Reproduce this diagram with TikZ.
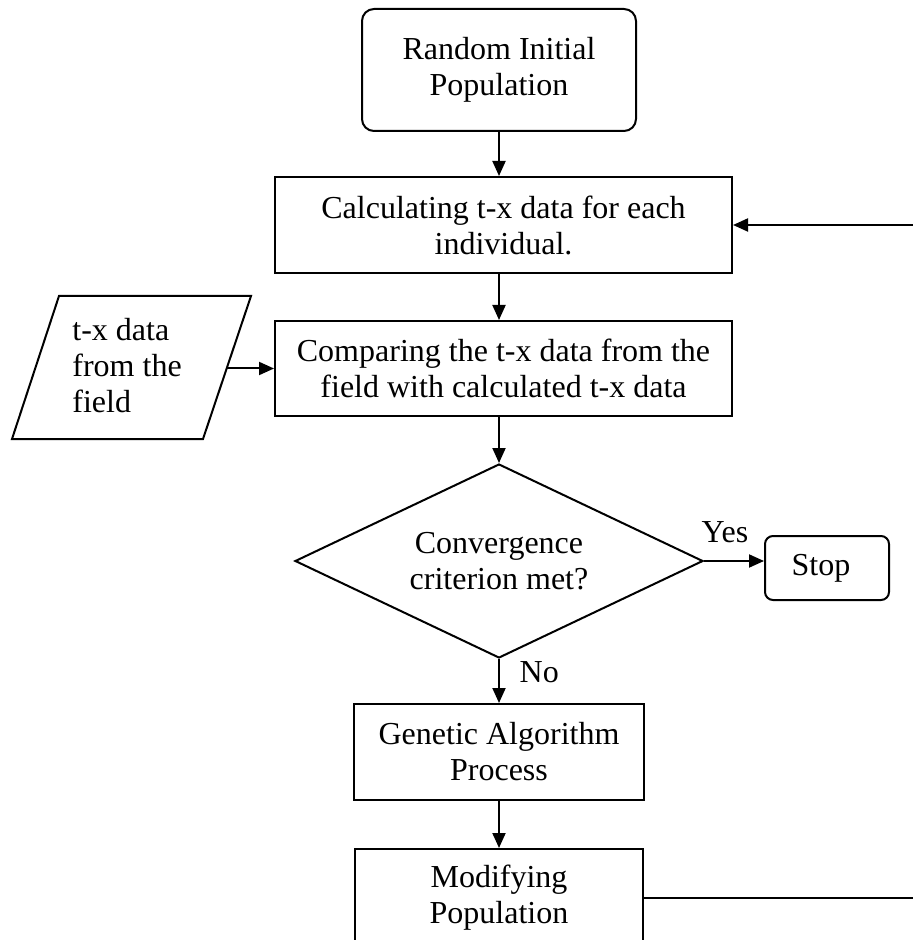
\documentclass[tikz,border=0pt]{standalone}
\usepackage{fontspec}
\setmainfont{Liberation Serif}
\usetikzlibrary{arrows.meta,shapes.geometric}

\begin{document}
\begin{tikzpicture}[x=0.5pt, y=-0.5pt,
        txt/.style={font=\fontsize{16pt}{18pt}\selectfont, align=center},
        procbox/.style={txt, draw, line width=1pt, inner sep=0pt},
        termbox/.style={procbox, rounded corners=6pt},
        decbox/.style={txt, draw, line width=1pt, diamond, shape aspect=2.1, inner sep=0pt},
        arr/.style={line width=1pt, -{Triangle[length=7.5pt,width=6.5pt]}}]
    \useasboundingbox (0,0) rectangle (913,940);
    % boxes
    \node[termbox, minimum width=137pt, minimum height=61pt] (start) at (499,70) {Random Initial\\Population};
    \node[procbox, minimum width=228.5pt, minimum height=48pt] (calc) at (503.5,225) {Calculating t-x data for each\\individual.};
    \node[procbox, minimum width=228.5pt, minimum height=47.5pt] (comp) at (503.5,368.5) {Comparing the t-x data from the\\field with calculated t-x data};
    \draw[line width=1pt] (59,296) -- (251,296) -- (203,439) -- (12,439) -- cycle;
    \node[txt, align=left, anchor=west, inner sep=0pt] (data) at (72,366) {t-x data\\from the\\field};
    \coordinate (dataout) at (227,368.5);
    \node[decbox, minimum width=204pt, minimum height=97pt] (dec) at (499,561) {Convergence\\criterion met?};
    \node[termbox, rounded corners=4pt, minimum width=62pt, minimum height=32pt] (stop) at (827,568) {Stop\hspace{6pt}};
    \node[procbox, minimum width=145pt, minimum height=48pt] (gen) at (499,752) {Genetic Algorithm\\Process};
    \node[procbox, minimum width=144pt, minimum height=49pt] (mod) at (499,898) {Modifying\\Population};
    \coordinate (loopin) at (913,225);
    \coordinate (loopout) at (913,898);
    % connectors
    \draw[arr] (start.south) -- (start.south |- calc.north);
    \draw[arr] (start.south |- calc.south) -- (start.south |- comp.north);
    \draw[arr] (start.south |- comp.south) -- (dec.north);
    \draw[arr] (dataout) -- (dataout -| comp.west);
    \draw[arr] (dec.east) -- (dec.east -| stop.west) node[txt, pos=0.35, above=5.5pt] (yes) {Yes};
    \draw[arr] (dec.south) -- (gen.north) node[txt, pos=0.3, right=6.5pt] (no) {No};
    \draw[arr] (gen.south) -- (mod.north);
    \draw[arr] (loopin) -- (loopin -| calc.east);
    \draw[line width=1pt] (mod.east) -- (loopout);
\end{tikzpicture}
\end{document}
